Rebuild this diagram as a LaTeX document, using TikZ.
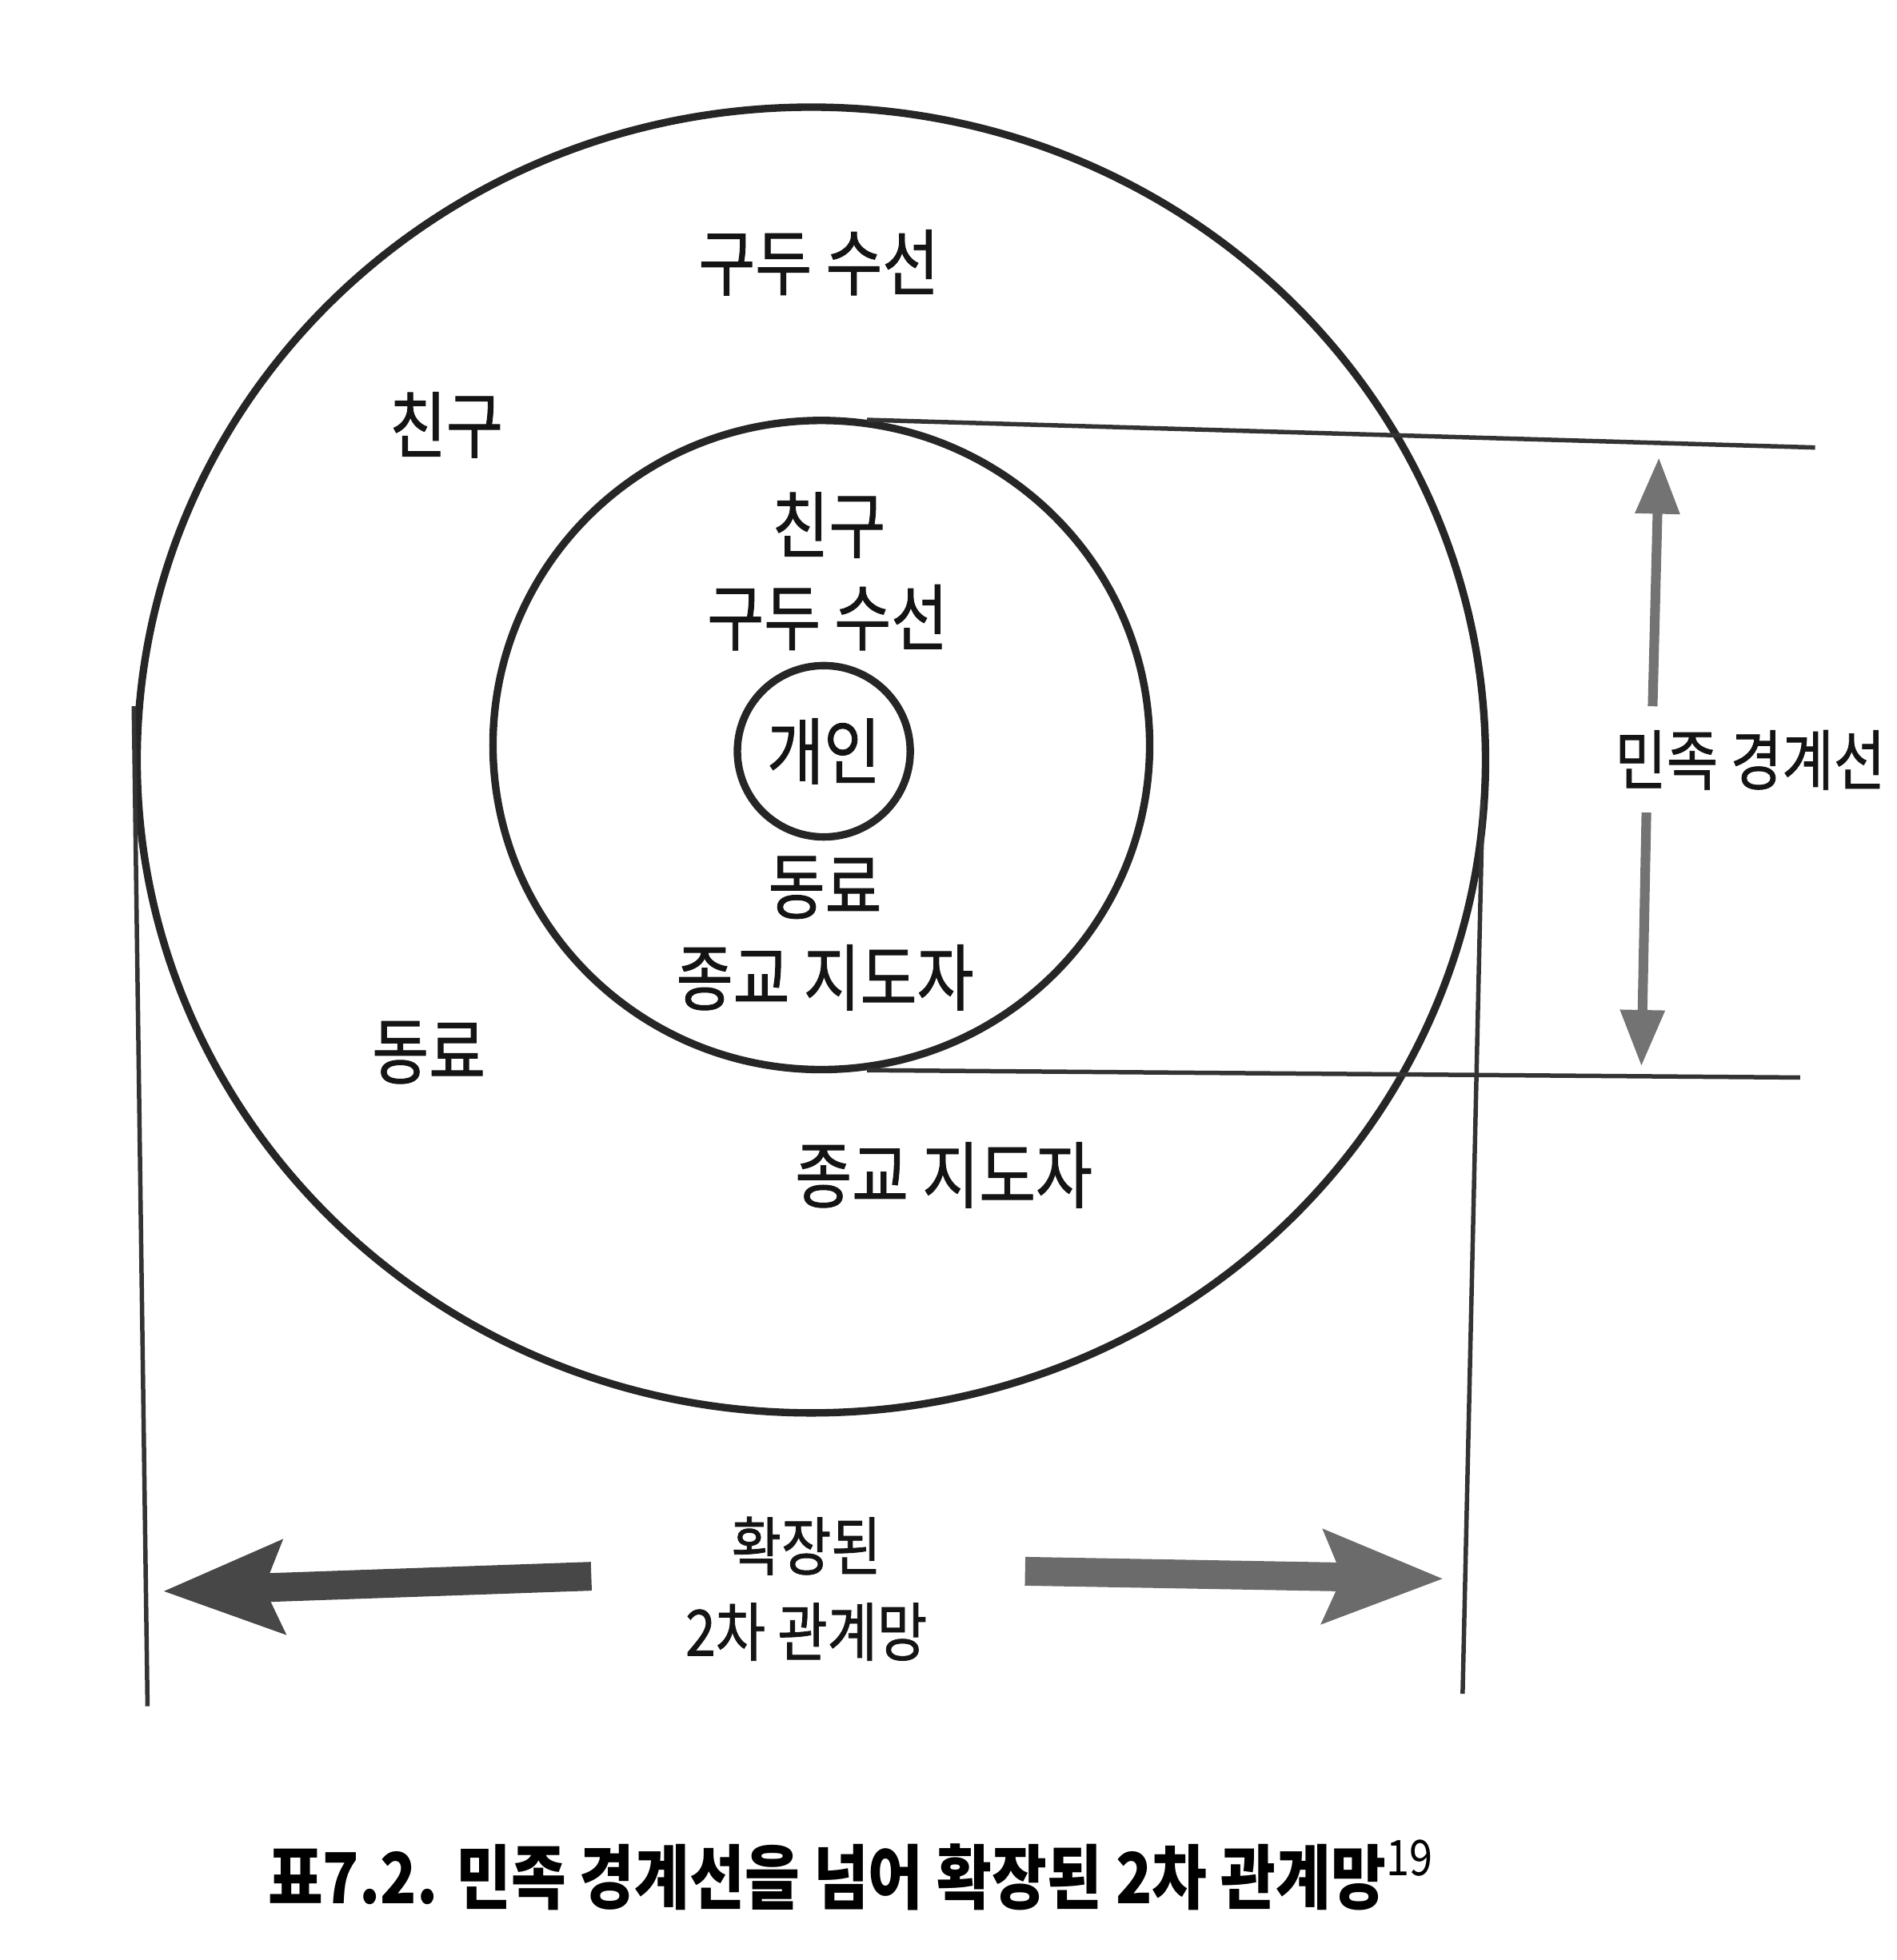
\documentclass[tikz,border=0pt]{standalone}
\usepackage{fontspec}
\setmainfont{Noto Sans CJK KR}[FakeStretch=0.85]
\newfontfamily\lblfont{Noto Sans CJK KR}[FakeStretch=0.85,FakeBold=1]
\usetikzlibrary{arrows.meta,shapes.geometric}

\begin{document}
\begin{tikzpicture}[x=0.01cm,y=-0.01cm,
  ring/.style={draw=black!85,line width=1.7pt,ellipse,inner sep=0pt},
  lbl/.style={font=\lblfont\fontsize{16.5}{19}\selectfont,text=black!92,inner sep=1pt},
  rule/.style={draw=black!80,line width=1pt},
  gauge/.style={draw=black!55,line width=2.2pt,-{Triangle[width=0.34cm,length=0.45cm]}},
  fat/.style={line width=0.23cm,-{Stealth[width=0.72cm,length=0.95cm,inset=0.14cm]}}]
  \useasboundingbox (0,0) rectangle (1517,1568);
  % circles
  \node[ring,minimum width=10.78cm,minimum height=10.44cm] (outer) at (649,608) {};
  \node[ring,minimum width=5.25cm,minimum height=5.19cm] (inner) at (657,596) {};
  \node[ring,lbl,minimum size=1.37cm] (self) at (659,601) {개인};
  % outer ring labels
  \node[lbl] (shoeA) at (655,210) {구두 수선};
  \node[lbl] (friendA) at (357,340) {친구};
  \node[lbl] (coworkA) at (343,842) {동료};
  \node[lbl] (leaderA) at (755,940) {종교 지도자};
  % inner ring labels
  \node[lbl] (friendB) at (663,420) {친구};
  \node[lbl] (shoeB) at (662,494) {구두 수선};
  \node[lbl] (coworkB) at (660,710) {동료};
  \node[lbl] (leaderB) at (660,782) {종교 지도자};
  % ethnic boundary
  \node[lbl,font=\lblfont\fontsize{15}{18}\selectfont] (ethnic) at (1400,608) {민족 경계선};
  \coordinate (topR) at (1452,358);
  \coordinate (botR) at (1440,862);
  \draw[rule] (inner.82) -- (topR);
  \draw[rule] (inner.-82) -- (botR);
  \coordinate (gapU) at (1322,565);
  \coordinate (gapD) at (1317,650);
  \coordinate (arrU) at (1327,366);
  \coordinate (arrD) at (1313,853);
  \draw[gauge] (gapU) -- (arrU);
  \draw[gauge] (gapD) -- (arrD);
  % extended network
  \coordinate (sideLt) at (107,565);
  \coordinate (sideLb) at (118,1365);
  \coordinate (sideRt) at (1186,640);
  \coordinate (sideRb) at (1170,1355);
  \draw[rule] (sideLt) -- (sideLb);
  \draw[rule] (sideRt) -- (sideRb);
  \node[lbl,font=\lblfont\fontsize{14.5}{19.5}\selectfont,align=center] (net) at (645,1271) {확장된\\2차 관계망};
  \coordinate (tailL) at (473,1261);
  \coordinate (tipL) at (130,1273);
  \coordinate (tailR) at (820,1257);
  \coordinate (tipR) at (1155,1263);
  \draw[fat,black!72] (tailL) -- (tipL);
  \draw[fat,black!58] (tailR) -- (tipR);
  % caption
  \node[font=\bfseries\fontsize{16}{19}\selectfont] (cap) at (681,1500) {표7.2. 민족 경계선을 넘어 확장된 2차 관계망\textsuperscript{\mdseries 19}};
\end{tikzpicture}
\end{document}
